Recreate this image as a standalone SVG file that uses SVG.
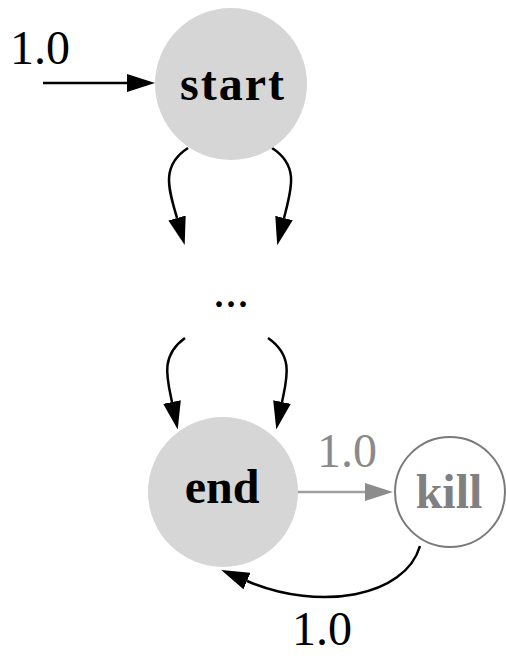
<svg xmlns="http://www.w3.org/2000/svg" width="506" height="656" viewBox="0 0 506 656">
  <style>
    .lbl { font-family: "Liberation Serif", "Times New Roman", serif; font-size: 48px; }
    .name { font-family: "Liberation Serif", "Times New Roman", serif; font-size: 48px; font-weight: bold; text-anchor: middle; }
    .edge { fill: none; stroke: #000; stroke-width: 2.5; }
    .edge.gray { stroke: #a0a0a0; }
  </style>
  <defs>
    <marker id="arrow" viewBox="0 0 28 18" refX="0" refY="9" markerWidth="28" markerHeight="18" markerUnits="userSpaceOnUse" orient="auto">
      <path d="M0,0 L28,9 L0,18 z" fill="#000"/>
    </marker>
    <marker id="arrowGray" viewBox="0 0 28 18" refX="0" refY="9" markerWidth="28" markerHeight="18" markerUnits="userSpaceOnUse" orient="auto">
      <path d="M0,0 L28,9 L0,18 z" fill="#8c8c8c"/>
    </marker>
  </defs>
  <rect width="506" height="656" fill="#fff"/>

  <g id="edges">
    <path class="edge" d="M43,83 L127,83" marker-end="url(#arrow)"/>
    <text class="lbl" x="10" y="64" fill="#000">1.0</text>

    <path class="edge" d="M188,148 C160,166 169,190 177,218" marker-end="url(#arrow)"/>
    <path class="edge" d="M272,148 C300,166 291,190 284,218" marker-end="url(#arrow)"/>

    <path class="edge" d="M185,338 C160,356 167,378 172,402" marker-end="url(#arrow)"/>
    <path class="edge" d="M268,338 C294,356 287,378 282,402" marker-end="url(#arrow)"/>

    <path class="edge gray" d="M298,492 L365,492" marker-end="url(#arrowGray)"/>
    <text class="lbl" x="317" y="467" fill="#8a8a8a">1.0</text>

    <path class="edge" d="M420,546 C405,597 320,612 247,581" marker-end="url(#arrow)"/>
    <text class="lbl" x="292" y="645" fill="#000">1.0</text>
  </g>

  <g id="start">
    <circle cx="231" cy="84" r="76" fill="#d6d6d6"/>
    <text class="name" x="233" y="100" letter-spacing="2" fill="#000">start</text>
  </g>

  <g id="mid">
    <text class="lbl" x="231" y="307" text-anchor="middle" fill="#000">...</text>
  </g>

  <g id="end">
    <circle cx="223" cy="492" r="75" fill="#d6d6d6"/>
    <text class="name" x="222" y="503" fill="#000">end</text>
  </g>

  <g id="kill">
    <circle cx="450" cy="492" r="55" fill="#fff" stroke="#7a7a7a" stroke-width="2"/>
    <text class="name" x="449" y="508" fill="#808080">kill</text>
  </g>
</svg>
